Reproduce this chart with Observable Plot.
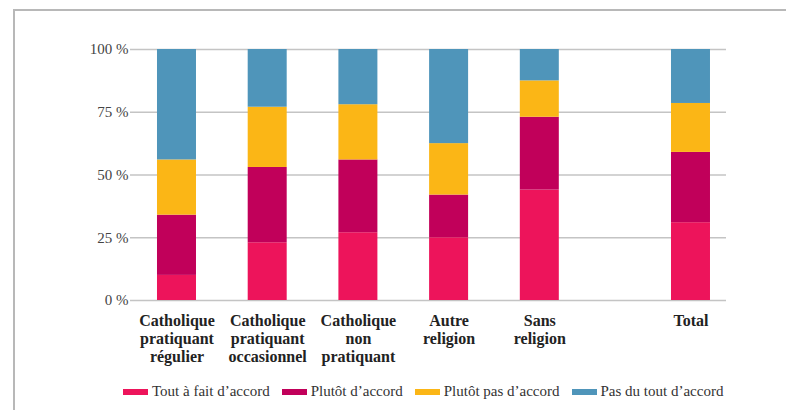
<!DOCTYPE html>
<html><head><meta charset="utf-8">
<script src="https://cdn.jsdelivr.net/npm/d3@7"></script>
<script src="https://cdn.jsdelivr.net/npm/@observablehq/plot@0.6"></script>
<style>
html,body{margin:0;padding:0;background:#fff}
body{width:786px;height:410px;overflow:hidden;position:relative;font-family:"Liberation Serif","Times New Roman","DejaVu Serif",serif}
#frame{position:absolute;left:13px;top:9px;right:-10px;bottom:-10px;border-left:2px solid #b8b8b8;border-top:2px solid #b8b8b8}
#chart{position:absolute;left:0;top:0}
#legend{position:absolute;left:123px;top:383px;display:flex;align-items:center;font-size:15px;color:#333;white-space:nowrap}
#legend .sw{display:inline-block;width:25px;height:6px;margin-right:4px}
#legend .it{display:flex;align-items:center;margin-right:12px}
svg text{font-family:"Liberation Serif","Times New Roman","DejaVu Serif",serif}
</style>
</head><body>
<div id="frame"></div>
<div id="chart"></div>
<div id="legend"></div>
<script>
const categories = ["Catholique\npratiquant\nrégulier", "Catholique\npratiquant\noccasionnel", "Catholique\nnon\npratiquant", "Autre\nreligion", "Sans\nreligion", "Total"];
const series = ["Tout à fait d’accord", "Plutôt d’accord", "Plutôt pas d’accord", "Pas du tout d’accord"];
const toutAFait   = [10, 23, 27, 25, 44, 31];
const plutot      = [24, 30, 29, 17, 29, 28];
const plutotPas   = [22, 24, 22, 20.5, 14.5, 19.5];
const pasDuTout   = [44, 23, 22, 37.5, 12.5, 21.5];
const colors = ["#ED145B", "#C1005A", "#FBB616", "#4F95BA"];
const yTicks = [0, 25, 50, 75, 100];

const valuesBySeries = [toutAFait, plutot, plutotPas, pasDuTout];
const data = [];
series.forEach((s, si) => categories.forEach((c, ci) => data.push({cat: c, series: s, value: valuesBySeries[si][ci]})));

// ordinal domain with spacer slots (layout only)
const spacersAfter = [2, 2, 2, 2, 4];
const domain = [];
categories.forEach((c, i) => {
  domain.push(c);
  if (i < spacersAfter.length) for (let k = 0; k < spacersAfter[i]; k++) domain.push("sp" + i + "_" + k);
});

const FONT = "'Liberation Serif', 'Times New Roman', 'DejaVu Serif', serif";
const plot = Plot.plot({
  width: 786,
  height: 380,
  marginLeft: 130,
  marginRight: 60,
  marginTop: 49,
  marginBottom: 80,
  style: {fontFamily: FONT, background: "transparent"},
  x: {domain, padding: 0, paddingOuter: 0.856, align: 0.606, round: false, axis: null},
  y: {domain: [0, 100], axis: null},
  color: {domain: series, range: colors},
  marks: [
    Plot.ruleY(yTicks, {stroke: "#c4c4c4", strokeWidth: 1.5}),
    Plot.barY(data, {x: "cat", y: "value", fill: "series", insetLeft: -4.38, insetRight: -4.38}),
    Plot.axisY(yTicks, {tickSize: 0, tickPadding: 2, tickFormat: d => d + "\u00a0%", fontSize: 15, fill: "#444", label: null}),
    Plot.axisX(categories, {tickSize: 0, tickPadding: 13, fontSize: 16, fontWeight: "bold", lineHeight: 1.12, fill: "#222", label: null})
  ]
});
document.getElementById("chart").appendChild(plot);

const leg = document.getElementById("legend");
series.forEach((s, i) => {
  const it = document.createElement("span");
  it.className = "it";
  it.innerHTML = `<span class="sw" style="background:${colors[i]}"></span>${s}`;
  leg.appendChild(it);
});
</script>
</body></html>
